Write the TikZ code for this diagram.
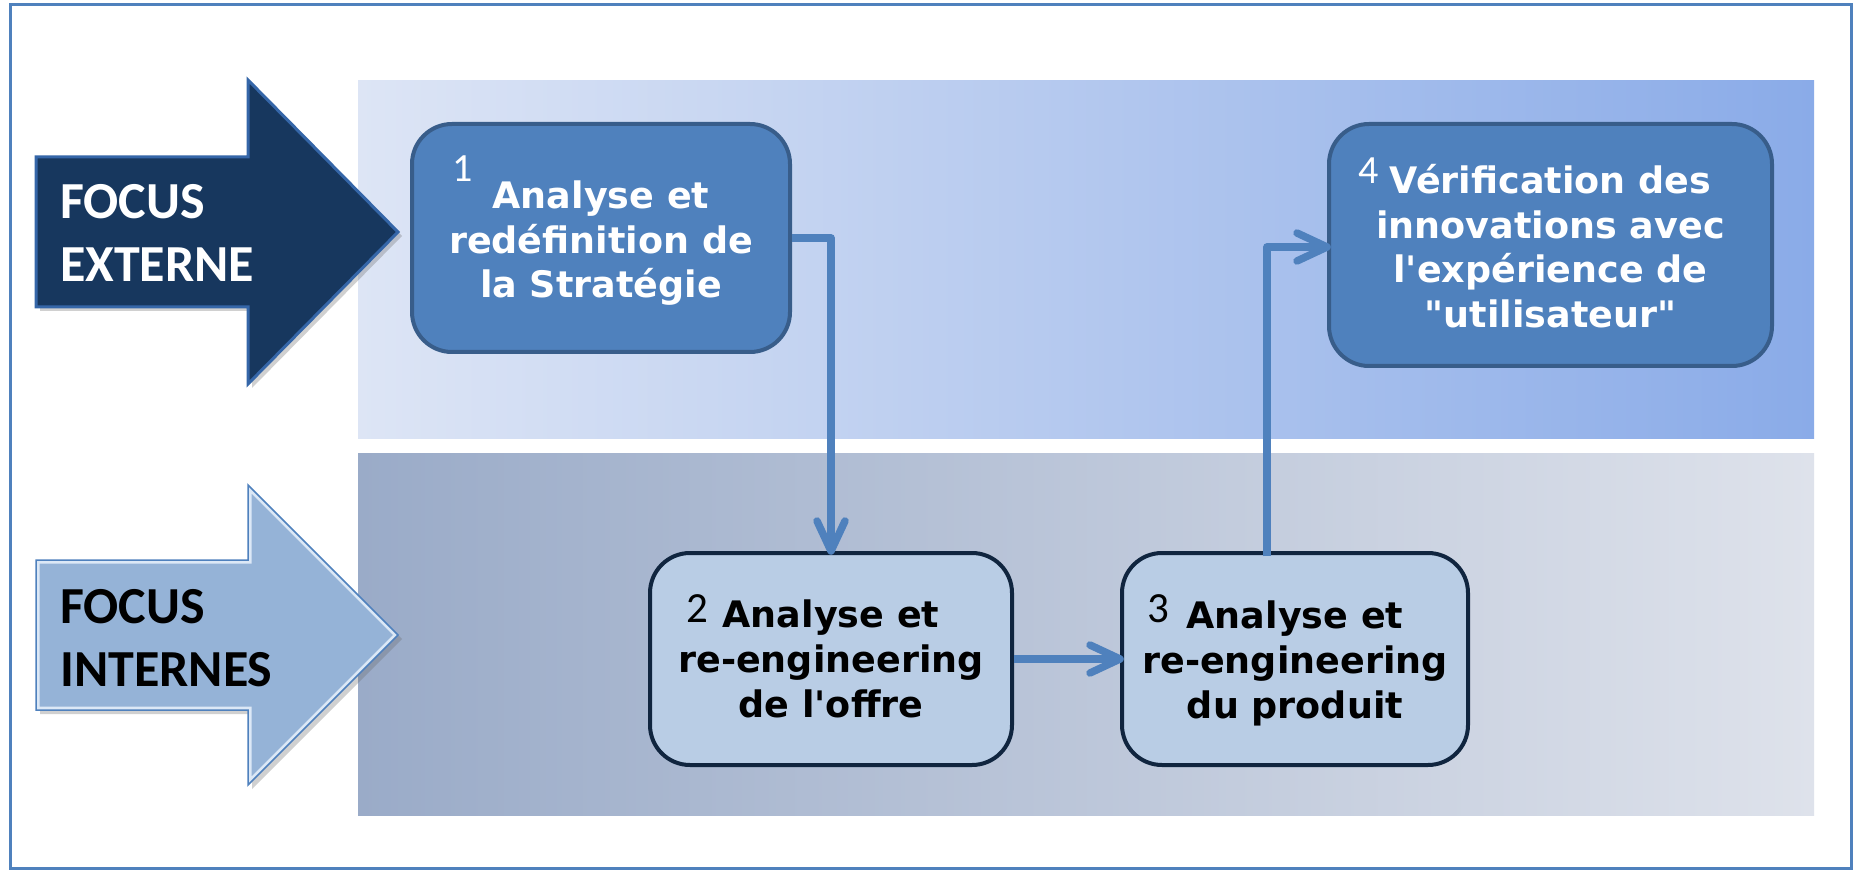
\documentclass[tikz,border=0pt]{standalone}
\usepackage{fontspec}
\setmainfont{DejaVu Sans}
\newfontfamily\calfont{Carlito}
\newfontfamily\boxfont{DejaVu Sans}
\usetikzlibrary{shadows}
\definecolor{frameblue}{HTML}{4F81BD}
\definecolor{navy}{HTML}{17375E}
\definecolor{navyedge}{HTML}{3566A8}
\definecolor{lightarrow}{HTML}{95B3D7}
\definecolor{lightedge}{HTML}{DCE8F6}
\definecolor{darkbox}{HTML}{4F81BD}
\definecolor{darkboxedge}{HTML}{385D8A}
\definecolor{lightbox}{HTML}{B9CDE5}
\definecolor{lightboxedge}{HTML}{10253F}
\definecolor{topL}{HTML}{DDE5F5}
\definecolor{topR}{HTML}{8AABE8}
\definecolor{botL}{HTML}{9AABC8}
\definecolor{botR}{HTML}{DEE2EB}
\begin{document}
\begin{tikzpicture}[x=1pt,y=-1pt,
  topbox/.style={draw=darkboxedge, fill=darkbox, line width=4pt, rounded corners=40pt, inner sep=0pt},
  botbox/.style={draw=lightboxedge, fill=lightbox, line width=4pt, rounded corners=40pt, inner sep=0pt},
  toptext/.style={text=white, align=center, inner sep=0pt, font=\boxfont\bfseries\fontsize{36.5}{44.5}\selectfont},
  bottext/.style={text=black, align=center, inner sep=0pt, font=\boxfont\bfseries\fontsize{36.5}{45}\selectfont},
  numtext/.style={inner sep=0pt, anchor=base west, font=\calfont\fontsize{40}{44}\selectfont},
  focustext/.style={inner sep=0pt, anchor=north west, align=left, font=\calfont\bfseries\fontsize{52}{63}\selectfont},
  connector/.style={draw=frameblue, line width=7.5pt, line join=round},
  chevron/.style={draw=frameblue, line width=7.5pt, line cap=round, line join=round},
  ashadow/.style={drop shadow={opacity=0.3, shadow xshift=4pt, shadow yshift=-4pt, fill=black!60}}
]
\useasboundingbox (0,0) rectangle (1856,874);
\fill[white] (0,0) rectangle (1856,874);
\draw[frameblue, line width=3pt] (10,4.5) rectangle (1851,868);

% bands
\shade[left color=topL, right color=topR] (358,80.5) rectangle (1814,439);
\shade[left color=botL, right color=botR] (358,454) rectangle (1814,815);

% external arrow
\draw[fill=navy, draw=navyedge, line width=3pt, line join=miter, ashadow]
  (36,157) -- (248,157) -- (248,80) -- (398,232) -- (248,384) -- (248,307) -- (36,307) -- cycle;
\node[focustext, text=white] (fe) at (60,184) {FOCUS\\EXTERNE};

% internal arrow
\fill[lightarrow, ashadow]
  (36,560) -- (248,560) -- (248,485) -- (398,635) -- (248,785) -- (248,710) -- (36,710) -- cycle;
\begin{scope}
\clip (36,560) -- (248,560) -- (248,485) -- (398,635) -- (248,785) -- (248,710) -- (36,710) -- cycle;
\draw[lightedge, line width=7pt]
  (36,560) -- (248,560) -- (248,485) -- (398,635) -- (248,785) -- (248,710) -- (36,710) -- cycle;
\end{scope}
\draw[frameblue, line width=1.5pt, line join=miter]
  (36,560) -- (248,560) -- (248,485) -- (398,635) -- (248,785) -- (248,710) -- (36,710) -- cycle;
\node[focustext, text=black] (fi) at (60,589) {FOCUS\\INTERNES};

% boxes
\node[topbox, minimum width=378pt, minimum height=228pt] (b1) at (601,238) {};
\node[topbox, minimum width=443pt, minimum height=242pt] (b4) at (1550.5,245) {};
\node[botbox, minimum width=362pt, minimum height=212pt] (b2) at (831,659) {};
\node[botbox, minimum width=346pt, minimum height=212pt] (b3) at (1295,659) {};

% box texts
\node[toptext] (t1) at (601,243.5) {Analyse et\\redéfinition de\\la Stratégie};
\node[toptext] (t4) at (1550.5,246) {Vérification des\\innovations avec\\l'expérience de\\"utilisateur"};
\node[bottext] (t2) at (831,659) {Analyse et\\re-engineering\\de l'offre};
\node[bottext] (t3) at (1295,663) {Analyse et\\re-engineering\\du produit};

\node[numtext, text=white] (n1) at (452,182) {1};
\node[numtext, text=white] (n4) at (1358,184) {4};
\node[numtext, text=black, font=\calfont\fontsize{43}{46}\selectfont] (n2) at (686,622) {2};
\node[numtext, text=black, font=\calfont\fontsize{43}{46}\selectfont] (n3) at (1147,622) {3};

% connectors
\coordinate (k1) at (b1.east -| b2.north);
\coordinate (c3) at ([xshift=-28pt,yshift=-5pt]b3.north);
\coordinate (t4in) at ([yshift=-2pt]b4.west);
\coordinate (k3) at (c3 |- t4in);
\draw[connector] (b1.east) -- (k1) -- (b2.north);
\draw[chevron] ([xshift=-14pt,yshift=30pt]b2.north) -- (b2.north) -- ([xshift=14pt,yshift=30pt]b2.north);
\draw[connector] (b2.east) -- (b3.west);
\draw[chevron] ([xshift=-30pt,yshift=14pt]b3.west) -- (b3.west) -- ([xshift=-30pt,yshift=-14pt]b3.west);
\draw[connector] (c3) -- (k3) -- (t4in);
\draw[chevron] ([xshift=-30pt,yshift=14pt]t4in) -- (t4in) -- ([xshift=-30pt,yshift=-14pt]t4in);
\end{tikzpicture}
\end{document}
